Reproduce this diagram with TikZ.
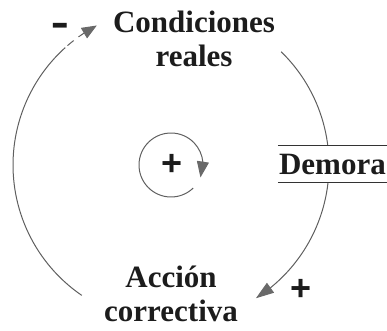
\documentclass[tikz,border=0pt]{standalone}
\usepackage{fontspec}
\setmainfont{Liberation Serif}
\setsansfont{Liberation Sans}
\usetikzlibrary{arrows.meta, bending}
\definecolor{ink}{RGB}{28, 28, 28}
\definecolor{wire}{RGB}{95, 95, 95}
\definecolor{headgray}{RGB}{105, 105, 105}
\tikzset{
  var/.style={font=\bfseries\fontsize{31}{34}\selectfont, text=ink, align=center, inner sep=0pt},
  sign/.style={font=\sffamily\bfseries\fontsize{36}{36}\selectfont, text=ink, inner sep=0pt},
  link/.style={draw=wire, line width=1pt},
  head/.style={-{Triangle[length=#1, width=12pt, color=headgray]}},
  rule/.style={draw=ink!90, line width=1.3pt}
}

\begin{document}
\begin{tikzpicture}[x=1pt, y=1pt]

  \useasboundingbox (0, 0) rectangle (387, 330);

  \coordinate (c) at (171, 165);

  % outer loop
  \draw[link] ([shift={(235.6:158pt)}]c) arc[start angle=235.6, end angle=132, radius=158pt];
  \draw[link, dash pattern=on 0pt off 3pt on 8pt off 3pt, head=15pt] ([shift={(132:158pt)}]c) arc[start angle=132, end angle=118, radius=158pt];
  \draw[link, head=18pt] ([shift={(45.8:158pt)}]c) arc[start angle=45.8, end angle=-57.5, radius=158pt];

  % inner loop
  \draw[link, head=16pt] ([shift={(-46:32pt)}]c) arc[start angle=-46, end angle=-383, radius=32pt];

  \node[var] (cond) at (194, 291.5) {Condiciones\\reales};
  \node[var] (acc) at (171, 36.3) {Acción\\correctiva};
  \node[var, fill=white, inner xsep=1pt, minimum height=36pt, anchor=east] (dem) at (387, 166) {Demora};
  \draw[rule] (dem.north west) -- (dem.north east);
  \draw[rule] (dem.south west) -- (dem.south east);

  \node[sign, font=\sffamily\bfseries\fontsize{28}{28}\selectfont] (minus) at (60, 299.5) {\scalebox{1}[1.7]{–}};
  \node[sign] (inner) at (172.5, 165) {+};
  \node[sign] (plus) at (301, 40) {+};

\end{tikzpicture}
\end{document}
